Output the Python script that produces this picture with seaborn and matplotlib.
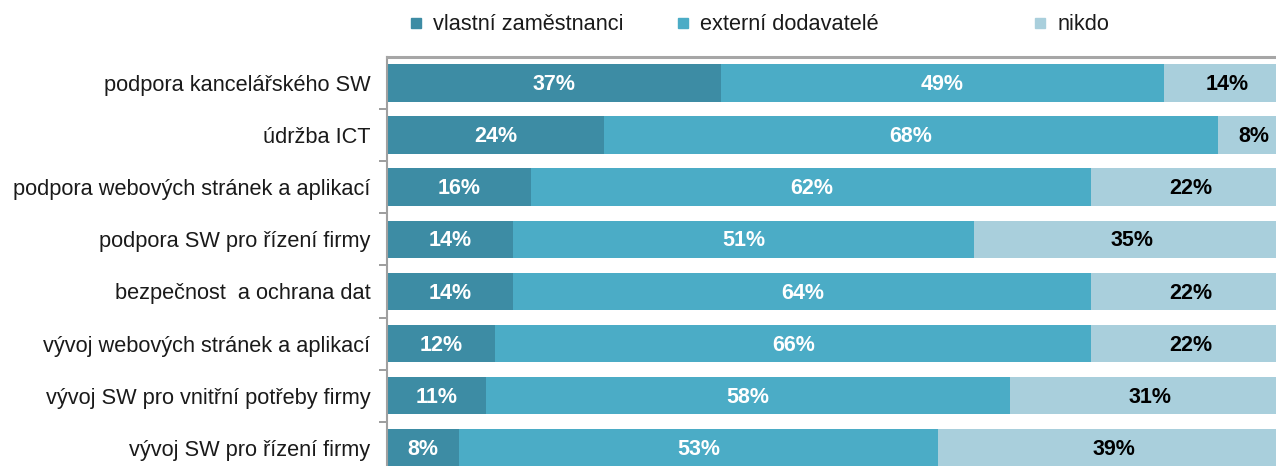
import matplotlib
matplotlib.use('Agg')
import matplotlib.pyplot as plt
import seaborn as sns
import numpy as np
import pandas as pd
from matplotlib.lines import Line2D
from matplotlib.ticker import FixedLocator

# data (percent of firms)
categories = [
    'podpora kancelářského SW',
    'údržba ICT',
    'podpora webových stránek a aplikací',
    'podpora SW pro řízení firmy',
    'bezpečnost  a ochrana dat',
    'vývoj webových stránek a aplikací',
    'vývoj SW pro vnitřní potřeby firmy',
    'vývoj SW pro řízení firmy',
]
series = ['vlastní zaměstnanci', 'externí dodavatelé', 'nikdo']
own_staff = [37, 24, 16, 14, 14, 12, 11, 8]
external = [49, 68, 62, 51, 64, 66, 58, 53]
nobody = [14, 8, 22, 35, 22, 22, 31, 39]

colors = ['#3d8ca4', '#4bacc6', '#a9cfdc']
label_colors = ['white', 'white', 'black']

sns.set_style('white')
plt.rcParams['font.family'] = ['Liberation Sans', 'DejaVu Sans']

df = pd.DataFrame({'cat': categories, 'own': own_staff,
                   'ext': external, 'none': nobody})
df['c1'] = df['own']
df['c2'] = df['own'] + df['ext']
df['c3'] = df['c2'] + df['none']

fig = plt.figure(figsize=(12.76, 4.66), dpi=100)
ax = fig.add_axes([387 / 1276, -7.8 / 466, 889 / 1276, 416.8 / 466])

# stacked bars: draw the running totals from the largest down
for col, color in zip(['c3', 'c2', 'c1'], colors[::-1]):
    sns.barplot(data=df, x=col, y='cat', color=color, width=0.72,
                saturation=1, linewidth=0, edgecolor='none', ax=ax, orient='h')

# percentage labels centred in each segment
parts = [df['own'], df['ext'], df['none']]
starts = [np.zeros(len(df)), df['c1'], df['c2']]
for vals, left, tc in zip(parts, starts, label_colors):
    for i, (v, l) in enumerate(zip(vals, left)):
        ax.text(l + v / 2, i + 0.03, f'{v}%', ha='center', va='center',
                color=tc, fontsize=15.5, fontweight='bold')

ax.set_xlim(0, 98.45)
ax.set_ylim(len(categories) - 0.5, -0.5)
ax.set_xlabel('')
ax.set_ylabel('')
ax.set_xticks([])
ax.tick_params(axis='y', which='major', length=0, pad=12,
               labelsize=15.7, labelcolor='#1a1a1a')
# small separators on the axis between categories
ax.yaxis.set_minor_locator(FixedLocator(np.arange(0.5, len(categories) - 0.5, 1)))
ax.tick_params(axis='y', which='minor', left=True, direction='out',
               length=6, width=1.2, color='#8c8c8c')

for s in ['right', 'bottom']:
    ax.spines[s].set_visible(False)
ax.spines['left'].set_color('#a0a0a0')
ax.spines['left'].set_linewidth(1.5)
ax.spines['top'].set_color('#a6a6a6')
ax.spines['top'].set_linewidth(2.2)

# legend entries spaced like the original
legend_x = [412 / 1276, 679 / 1276, 1036 / 1276]
for name, color, lx in zip(series, colors, legend_x):
    h = Line2D([], [], marker='s', linestyle='', markersize=7.4,
               markerfacecolor=color, markeredgecolor=color)
    leg = fig.legend([h], [name], loc='center left',
                     bbox_to_anchor=(lx - 0.002, 1 - 25 / 466), frameon=False,
                     fontsize=15.7, handlelength=0.6, handletextpad=0.5,
                     borderpad=0, borderaxespad=0)
    for t in leg.get_texts():
        t.set_color('#1a1a1a')

fig.savefig('out.png', dpi=100)
plt.close(fig)
